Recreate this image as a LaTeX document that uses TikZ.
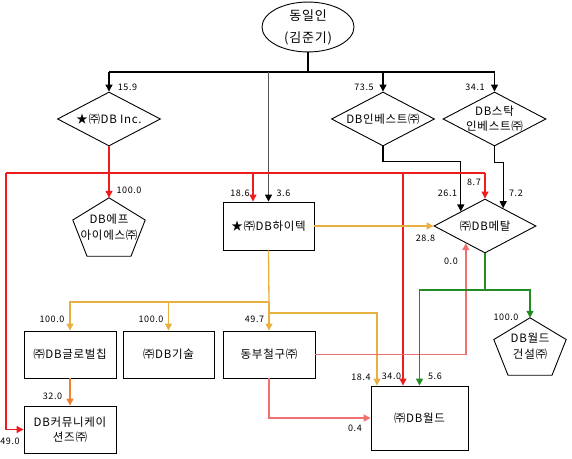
\documentclass[tikz,border=0pt]{standalone}
\usepackage{fontspec}
\setmainfont[LetterSpace=6]{Noto Sans CJK KR}
\usetikzlibrary{shapes.geometric,arrows.meta,calc}
\definecolor{cred}{HTML}{EE1C1C}
\definecolor{cpink}{HTML}{F07070}
\definecolor{corg}{HTML}{E8B040}
\definecolor{ccor}{HTML}{F08030}
\definecolor{cgrn}{HTML}{228B22}
\definecolor{cgry}{HTML}{555555}
\begin{document}
\begin{tikzpicture}[x=1pt,y=-1pt,
  txt/.style={font=\fontsize{11.5}{15}\selectfont, align=center, inner sep=0pt},
  num/.style={font=\fontsize{9}{10}\selectfont, inner sep=0pt},
  rbox/.style={draw, line width=0.9pt, minimum width=92pt, minimum height=47pt, inner sep=0pt, align=center, font=\fontsize{11.5}{15}\selectfont},
  dia/.style={draw, line width=0.9pt, diamond, minimum width=103pt, minimum height=54pt, inner sep=0pt},
  pentT/.style={minimum width=72pt, minimum height=58pt, inner sep=0pt, align=center, font=\fontsize{11.5}{16}\selectfont},
  shp/.style={draw, line width=0.9pt, line join=miter},
  tip/.style={-{Triangle[length=7pt,width=7pt]}},
  blk/.style={draw=black, line width=1.2pt},
  blkA/.style={blk, tip},
  redA/.style={draw=cred, line width=1.1pt, tip},
  red/.style={draw=cred, line width=1.1pt},
  pkA/.style={draw=cpink, line width=1.4pt, tip},
  orA/.style={draw=corg, line width=1.3pt, tip},
  or/.style={draw=corg, line width=1.3pt},
  corA/.style={draw=ccor, line width=1.3pt, tip},
  grA/.style={draw=cgrn, line width=1.3pt, tip},
  gr/.style={draw=cgrn, line width=1.3pt},
  gyA/.style={draw=cgry, line width=1.6pt, -{Triangle[length=7pt,width=7pt,black]}}
]
\useasboundingbox (0,0) rectangle (572,458);

% nodes
\node[draw, line width=0.9pt, ellipse, minimum width=92pt, minimum height=46pt, inner sep=0pt, align=center, font=\fontsize{13}{15}\selectfont] (own) at (308,27) {동일인\\[7pt](김준기)};

\node[dia] (inc) at (109,119) {};
\node[txt] (incT) at (inc) {★㈜DB Inc.};
\node[dia] (inv) at (383,119) {};
\node[txt] (invT) at (inv) {DB인베스트㈜};
\node[dia] (stk) at (494.5,119) {};
\node[txt] (stkT) at (stk) {DB스탁\\인베스트㈜};

\node[pentT] (efp) at (109,227) {DB에프\\아이에스㈜};
\draw[shp] (efp.north) -- ([yshift=7pt]efp.east) -- ([xshift=22pt]efp.south) -- ([xshift=-22pt]efp.south) -- ([yshift=7pt]efp.west) -- cycle;

\node[rbox, minimum width=91pt, minimum height=48pt] (htk) at (268.5,226) {★㈜DB하이텍};
\node[dia, minimum width=102pt] (met) at (485,226) {};
\node[txt] (metT) at (met) {㈜DB메탈};

\node[rbox] (glb) at (70,354.5) {㈜DB글로벌칩};
\node[rbox, minimum width=91pt] (tec) at (168.5,354.5) {㈜DB기술};
\node[rbox] (dbc) at (269,354.5) {동부철구㈜};
\node[rbox] (com) at (70,429.5) {DB커뮤니케이\\션즈㈜};
\node[rbox, minimum width=97pt, minimum height=64pt] (wld) at (419.5,418) {㈜DB월드};

\node[pentT, minimum height=57pt] (wc) at (530,346.5) {DB월드\\건설㈜};
\draw[shp] (wc.north) -- ([yshift=7pt]wc.east) -- ([xshift=22pt]wc.south) -- ([xshift=-22pt]wc.south) -- ([yshift=7pt]wc.west) -- cycle;

% helper coordinates
\coordinate (bus) at (308,72);
\coordinate (rj) at (109,173);
\coordinate (rl) at (6,173);
\coordinate (htkR) at ([xshift=-15.5pt]htk.north);
\coordinate (wldR) at ([xshift=-16.5pt]wld.north);
\coordinate (wldO) at ([xshift=-42.5pt]wld.north);
\coordinate (metA) at ($(met.north)!0.47!(met.west)$);
\coordinate (metB) at ($(met.north)!0.353!(met.east)$);
\coordinate (metC) at ($(met.south)!0.373!(met.west)$);
\coordinate (oj) at (269,302);
\coordinate (oj2) at (269,313);
\coordinate (gj) at (485,290);

% black owner tree
\draw[blk, line width=2pt] (own.south) -- (bus);
\draw[blk, line width=1.8pt] (inc.north |- bus) -- (stk.north |- bus);
\draw[blkA] (inc.north |- bus) -- (inc.north);
\draw[blkA] (inv.north |- bus) -- (inv.north);
\draw[blkA] (stk.north |- bus) -- (stk.north);
\draw[gyA] (htk.north |- bus) -- (htk.north);

% black to metal
\draw[blkA] (inv.south) -- ++(0,15) -| (metA);
\draw[blkA] (stk.south) -- ++(0,16) -| (metB);

% red from DB Inc.
\draw[redA] (inc.south) -- (efp.north);
\draw[red] (rl) -- (met.north |- rj);
\draw[redA] (rl) |- (com.west);
\draw[redA] (met.north |- rj) -- (met.north);
\draw[redA] (htkR |- rj) -- (htkR);
\draw[redA] (wldR |- rj) -- (wldR);

% orange from Hitek
\draw[orA] (htk.east) -- (met.west);
\draw[or] (htk.south) -- (oj);
\draw[orA] (oj) -| (glb.north);
\draw[orA] (tec.north |- oj) -- (tec.north);
\draw[orA] (oj) -- (dbc.north);
\draw[orA] (oj2) -| (wldO);

% coral
\draw[corA] (glb.south) -- (com.north);

% pink from Dongbu
\draw[pkA] (dbc.east) -| (metC);
\draw[pkA] (dbc.south) |- (wld.west);

% green from metal
\draw[gr] (met.south) -- (gj);
\draw[grA] (gj) -| (wld.north);
\draw[grA] (gj) -| (wc.north);

% labels
\node[num] (n1) at (127.5,87) {15.9};
\node[num] (n2) at (364,87) {73.5};
\node[num] (n3) at (475,87) {34.1};
\node[num] (n4) at (129,190) {100.0};
\node[num] (n5) at (240,193) {18.6};
\node[num] (n6) at (283.5,193) {3.6};
\node[num] (n7) at (474,182) {8.7};
\node[num] (n8) at (447.5,193) {26.1};
\node[num] (n9) at (516,193) {7.2};
\node[num] (n10) at (425.5,238) {28.8};
\node[num] (n11) at (451,261) {0.0};
\node[num] (n12) at (52,319) {100.0};
\node[num] (n13) at (151,319) {100.0};
\node[num] (n14) at (254.5,319) {49.7};
\node[num] (n15) at (52.5,396) {32.0};
\node[num] (n16) at (10,441) {49.0};
\node[num] (n17) at (506,317) {100.0};
\node[num] (n18) at (361,377) {18.4};
\node[num] (n19) at (391.5,376) {34.0};
\node[num] (n20) at (435,376) {5.6};
\node[num] (n21) at (355,428) {0.4};
\end{tikzpicture}
\end{document}
